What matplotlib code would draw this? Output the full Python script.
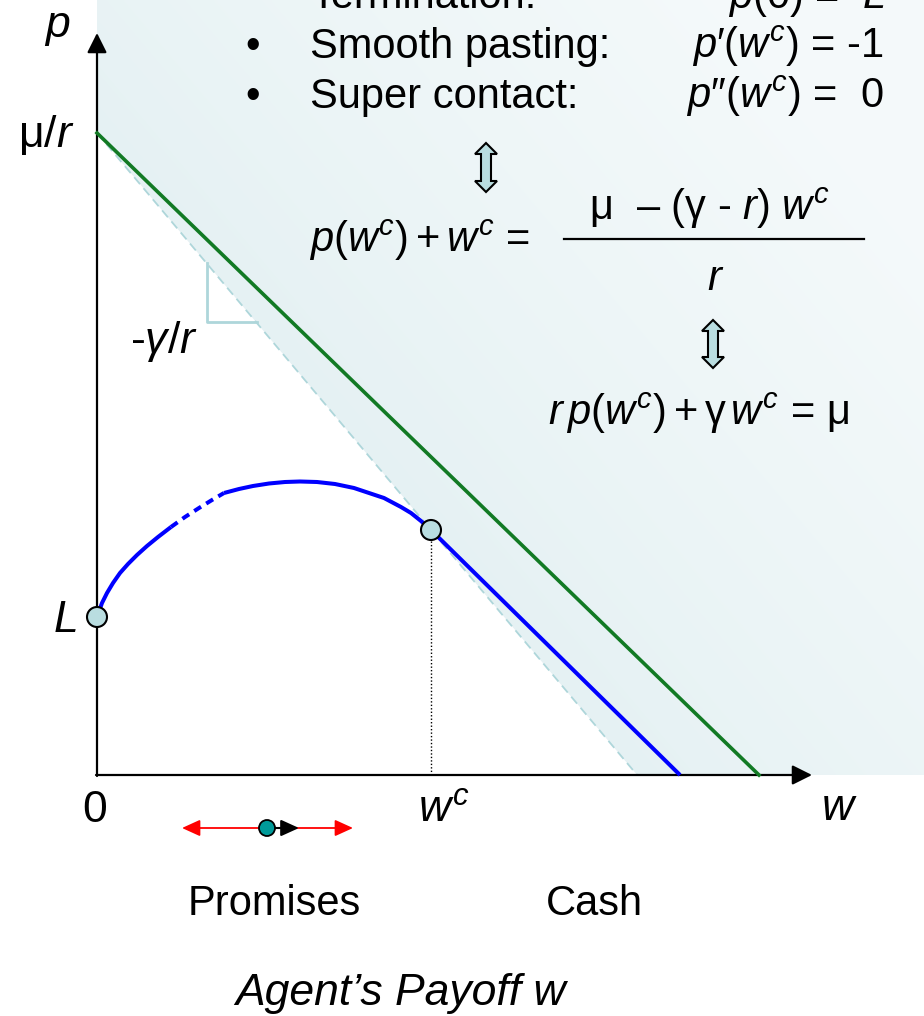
import matplotlib
matplotlib.use("Agg")
import matplotlib.pyplot as plt
import numpy as np
from matplotlib.patches import Polygon, Circle

plt.rcParams["font.family"] = ["Liberation Sans", "DejaVu Sans"]
plt.rcParams["mathtext.fontset"] = "custom"
plt.rcParams["mathtext.rm"] = "Liberation Sans"
plt.rcParams["mathtext.it"] = "Liberation Sans:italic"
plt.rcParams["mathtext.sf"] = "Liberation Sans"

# key values of the diagram (w = agent's payoff, p = principal's value)
MU_R = 6.42         # mu/r, p-intercept of the first-best line
L_VAL = 1.58        # liquidation value p(0) = L
WC = 3.34           # cash payment boundary w^c
P_WC = 2.45         # p(w^c)
W_GREEN_END = 6.62  # first-best line meets p = 0
W_BLUE_END = 5.83   # cash region line meets p = 0
X_AXIS_END = 7.15
Y_AXIS_END = 7.42

curve_w_a = [0.00, 0.05, 0.10, 0.16, 0.23, 0.31, 0.40, 0.50, 0.61, 0.74]
curve_p_a = [1.58, 1.72, 1.82, 1.92, 2.02, 2.11, 2.20, 2.29, 2.38, 2.48]
curve_w_b = [0.74, 0.88, 1.02, 1.15, 1.27]
curve_p_b = [2.48, 2.58, 2.67, 2.75, 2.82]
curve_w_c = [1.27, 1.42, 1.56, 1.72, 1.88, 2.03, 2.20, 2.38, 2.57, 2.72, 2.87, 3.04, 3.14, 3.24, 3.34]
curve_p_c = [2.82, 2.86, 2.89, 2.915, 2.93, 2.935, 2.93, 2.91, 2.87, 2.82, 2.77, 2.68, 2.62, 2.54, 2.45]

# slope marker on the -gamma/r line
TRI_W = [1.10, 1.60]
TRI_P = [5.12, 4.53]

BLUE = "#0000ff"
GREEN = "#127a24"
PALE = "#aed6da"
FILL = "#b9dde0"

fig = plt.figure(figsize=(9.24, 10.16), dpi=100)
ax = fig.add_axes([0, 0, 1, 1])
ax.set_xlim(-0.97, 8.27)
ax.set_ylim(-2.41, 7.75)
ax.axis("off")

# dashed -gamma/r line through (0, mu/r) and (w^c, p(w^c))
slope = (P_WC - MU_R) / WC
w_dash_end = -MU_R / slope

# shaded region above the dashed line, light gradient
x0, x1 = 0.0, 8.27
y0, y1 = 0.0, 7.75
nx, ny = 400, 400
gx, gy = np.meshgrid(np.linspace(x0, x1, nx), np.linspace(y1, y0, ny))
dist = (gy - (MU_R + slope * gx)) / np.sqrt(1 + slope ** 2)
t = np.clip(dist / 5.5, 0, 1) ** 0.8
dark = np.array([0.898, 0.945, 0.953])
light = np.array([0.957, 0.978, 0.982])
img = dark[None, None, :] * (1 - t[..., None]) + light[None, None, :] * t[..., None]
im = ax.imshow(img, extent=(x0, x1, y0, y1), aspect="auto", zorder=0, interpolation="bilinear")
region = Polygon([(0, y1), (x1, y1), (x1, 0), (w_dash_end, 0), (0, MU_R)],
                 closed=True, transform=ax.transData, facecolor="none", edgecolor="none")
ax.add_patch(region)
im.set_clip_path(region)

ax.plot([0, w_dash_end], [MU_R, 0], color=PALE, lw=1.3, ls=(0, (5, 3)), zorder=2)
ax.plot([TRI_W[0], TRI_W[0], TRI_W[1]], [TRI_P[0], TRI_P[1], TRI_P[1]], color=PALE, lw=2, zorder=2)

# axes with arrow heads
axis_arrow = dict(arrowstyle="-|>,head_length=0.6,head_width=0.3", color="black", lw=1.6,
                  shrinkA=0, shrinkB=0, mutation_scale=20)
ax.annotate("", xy=(0, Y_AXIS_END), xytext=(0, -0.01), arrowprops=axis_arrow, zorder=3)
ax.annotate("", xy=(X_AXIS_END, 0), xytext=(-0.01, 0), arrowprops=axis_arrow, zorder=3)

ax.plot([0, W_GREEN_END], [MU_R, 0], color=GREEN, lw=2.6, zorder=4)
ax.plot([WC, W_BLUE_END], [P_WC, 0], color=BLUE, lw=2.9, zorder=4, solid_capstyle="butt")
ax.plot(curve_w_a, curve_p_a, color=BLUE, lw=2.9, zorder=4, solid_capstyle="butt")
ax.plot(curve_w_b, curve_p_b, color=BLUE, lw=2.9, ls=(0, (2.0, 1.5)), zorder=4)
ax.plot(curve_w_c, curve_p_c, color=BLUE, lw=2.9, zorder=4, solid_capstyle="butt")
ax.plot([WC, WC], [0, P_WC], color="black", lw=1.0, ls=(0, (1, 1.5)), zorder=3)

for cx, cy in [(0, L_VAL), (WC, P_WC)]:
    ax.add_patch(Circle((cx, cy), 0.1, facecolor=FILL, edgecolor="black", lw=1.5, zorder=5))


def double_arrow(xc, ytop, ybot):
    hw, sw, hl = 0.11, 0.05, 0.11
    pts = [(xc, ytop), (xc + hw, ytop - hl), (xc + sw, ytop - hl), (xc + sw, ybot + hl),
           (xc + hw, ybot + hl), (xc, ybot), (xc - hw, ybot + hl), (xc - sw, ybot + hl),
           (xc - sw, ytop - hl), (xc - hw, ytop - hl)]
    ax.add_patch(Polygon(pts, closed=True, facecolor=FILL, edgecolor="black", lw=1.5, zorder=5))


double_arrow(3.89, 6.32, 5.83)
double_arrow(6.16, 4.55, 4.07)

# labels
big = 32
txt = 30
ax.text(-0.52, 7.38, "p", fontsize=big, style="italic", va="baseline")
ax.text(-0.79, 6.28, r"$\mathrm{\mu}/r$", fontsize=big, va="baseline")
ax.text(-0.43, 1.43, "L", fontsize=big, style="italic", va="baseline")
ax.text(-0.02, -0.47, "0", fontsize=big, ha="center", va="baseline")
ax.text(3.21, -0.47, r"$w^c$", fontsize=big, va="baseline")
ax.text(7.25, -0.45, "w", fontsize=big, style="italic", va="baseline")
ax.text(0.33, 4.22, r"-$\gamma/r$", fontsize=big, va="baseline")
ax.text(0.91, -1.40, "Promises", fontsize=txt, va="baseline")
ax.text(4.49, -1.40, "Cash", fontsize=txt, va="baseline")
ax.text(1.38, -2.30, "Agent\u2019s Payoff w", fontsize=big, style="italic", va="baseline")

# boundary conditions
rows = [("Termination:", r"$p(0)$ =  $L$", 7.67),
        ("Smooth pasting:", r"$p\prime(w^c)$ = -1", 7.17),
        ("Super contact:", r"$p\prime\prime(w^c)$ =  0", 6.67)]
for name, cond, yb in rows:
    ax.text(1.48, yb, "\u2022", fontsize=txt, va="baseline")
    ax.text(2.13, yb, name, fontsize=txt, va="baseline")
    ax.text(7.87, yb, cond, fontsize=txt, ha="right", va="baseline")

ax.text(2.12, 5.23, r"$p(w^c)+w^c$ =", fontsize=txt, va="baseline")
ax.text(4.92, 5.55, r"$\mathrm{\mu}$  " + "\u2013" + r" ($\mathrm{\gamma}$ - $r$) $w^c$",
        fontsize=txt, va="baseline")
ax.plot([4.67, 7.67], [5.36, 5.36], color="black", lw=1.6)
ax.text(6.19, 4.85, r"$r$", fontsize=txt, ha="center", va="baseline")
ax.text(4.51, 3.50, r"$r\,p(w^c)+\mathrm{\gamma}\,w^c$ = $\mathrm{\mu}$", fontsize=txt, va="baseline")

# drift of w in the promises region
ax.annotate("", xy=(0.85, -0.53), xytext=(2.56, -0.53),
            arrowprops=dict(arrowstyle="<|-|>,head_length=0.55,head_width=0.25", color="red", lw=1.3,
                            shrinkA=0, shrinkB=0, mutation_scale=20))
ax.annotate("", xy=(2.02, -0.53), xytext=(1.70, -0.53),
            arrowprops=dict(arrowstyle="-|>,head_length=0.55,head_width=0.25", color="black", lw=1.5,
                            shrinkA=0, shrinkB=0, mutation_scale=20), zorder=5)
ax.add_patch(Circle((1.70, -0.53), 0.08, facecolor="#009a99", edgecolor="black", lw=1.3, zorder=6))

fig.savefig("out.png", dpi=100)
